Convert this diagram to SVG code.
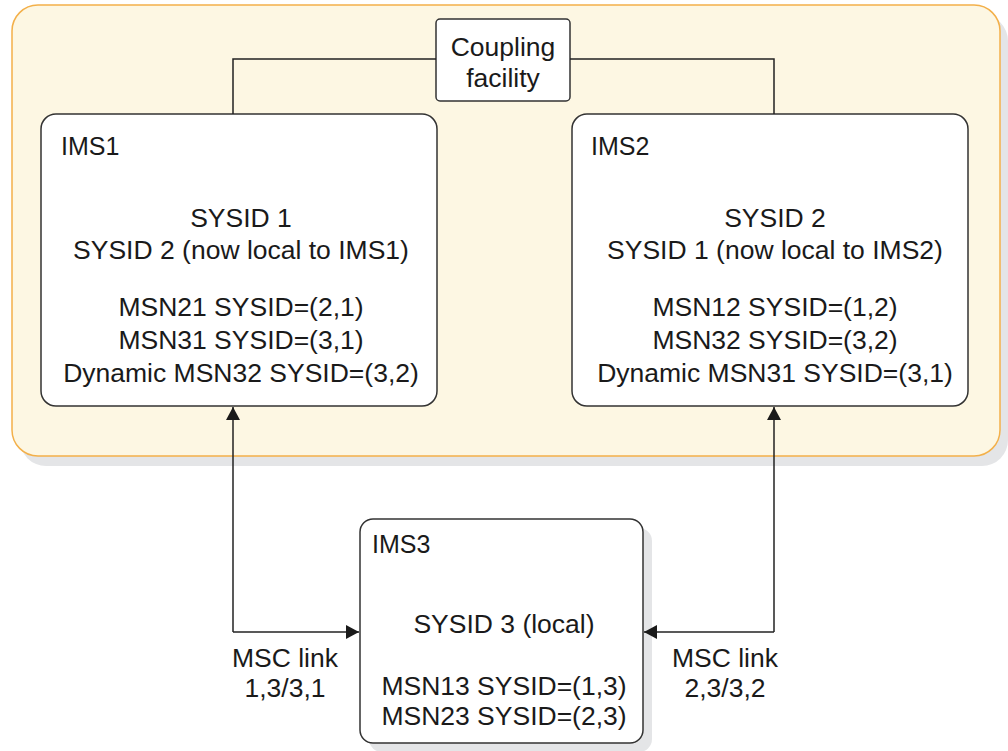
<svg xmlns="http://www.w3.org/2000/svg" width="1008" height="751" viewBox="0 0 1008 751">
<defs>
<style>
.t{font-family:"Liberation Sans",Arial,Helvetica,sans-serif;font-size:26.5px;fill:#1a1a1a}
.h{font-size:25px}
.c{text-anchor:middle}
.box{fill:#ffffff;stroke:#333333;stroke-width:1.5}
.shadow{fill:#e4e5e7}
.ln{fill:none;stroke:#222222;stroke-width:1.5}
</style>
<marker id="ah" markerWidth="14" markerHeight="14" viewBox="0 0 14 14" refX="13" refY="7" orient="auto" markerUnits="userSpaceOnUse">
<path d="M0,0 L13,7 L0,14 Z" fill="#1a1a1a"/>
</marker>
</defs>
<rect width="1008" height="751" fill="#ffffff"/>
<g id="sysplex">
<rect class="shadow" x="20" y="15" width="988" height="451" rx="26"/>
<rect x="12" y="5" width="988" height="451" rx="26" fill="#fdf7e3" stroke="#f3b04a" stroke-width="1.5"/>
</g>
<g id="cf">
<rect class="box" x="436" y="19" width="134" height="82" rx="4"/>
<text class="t c" x="503" y="56">Coupling</text>
<text class="t c" x="503" y="87">facility</text>
</g>
<g id="ims1">
<rect class="box" x="41" y="114" width="396" height="292" rx="15"/>
<text class="t h" x="61" y="155">IMS1</text>
<text class="t c" x="241" y="227">SYSID 1</text>
<text class="t c" x="241" y="259">SYSID 2 (now local to IMS1)</text>
<text class="t c" x="241" y="316">MSN21 SYSID=(2,1)</text>
<text class="t c" x="241" y="349">MSN31 SYSID=(3,1)</text>
<text class="t c" x="241" y="382">Dynamic MSN32 SYSID=(3,2)</text>
</g>
<g id="ims2">
<rect class="box" x="572" y="114" width="396" height="292" rx="15"/>
<text class="t h" x="591" y="155">IMS2</text>
<text class="t c" x="775" y="227">SYSID 2</text>
<text class="t c" x="775" y="259">SYSID 1 (now local to IMS2)</text>
<text class="t c" x="775" y="316">MSN12 SYSID=(1,2)</text>
<text class="t c" x="775" y="349">MSN32 SYSID=(3,2)</text>
<text class="t c" x="775" y="382">Dynamic MSN31 SYSID=(3,1)</text>
</g>
<g id="ims3">
<rect class="shadow" x="369" y="528" width="283" height="224" rx="13"/>
<rect class="box" x="360" y="519" width="283" height="224" rx="13"/>
<text class="t h" x="372" y="553">IMS3</text>
<text class="t c" x="504" y="633">SYSID 3 (local)</text>
<text class="t c" x="504" y="695">MSN13 SYSID=(1,3)</text>
<text class="t c" x="504" y="725">MSN23 SYSID=(2,3)</text>
</g>
<g id="connectors">
<path class="ln" d="M436,59 H233 V114"/>
<path class="ln" d="M570,59 H774 V114"/>
<path class="ln" d="M233,632 V407" marker-end="url(#ah)"/>
<path class="ln" d="M233,632 H359" marker-end="url(#ah)"/>
<path class="ln" d="M774,632 V407" marker-end="url(#ah)"/>
<path class="ln" d="M774,632 H644" marker-end="url(#ah)"/>
<text class="t c" x="285" y="667">MSC link</text>
<text class="t c" x="285" y="697">1,3/3,1</text>
<text class="t c" x="725" y="667">MSC link</text>
<text class="t c" x="725" y="697">2,3/3,2</text>
</g>
</svg>
